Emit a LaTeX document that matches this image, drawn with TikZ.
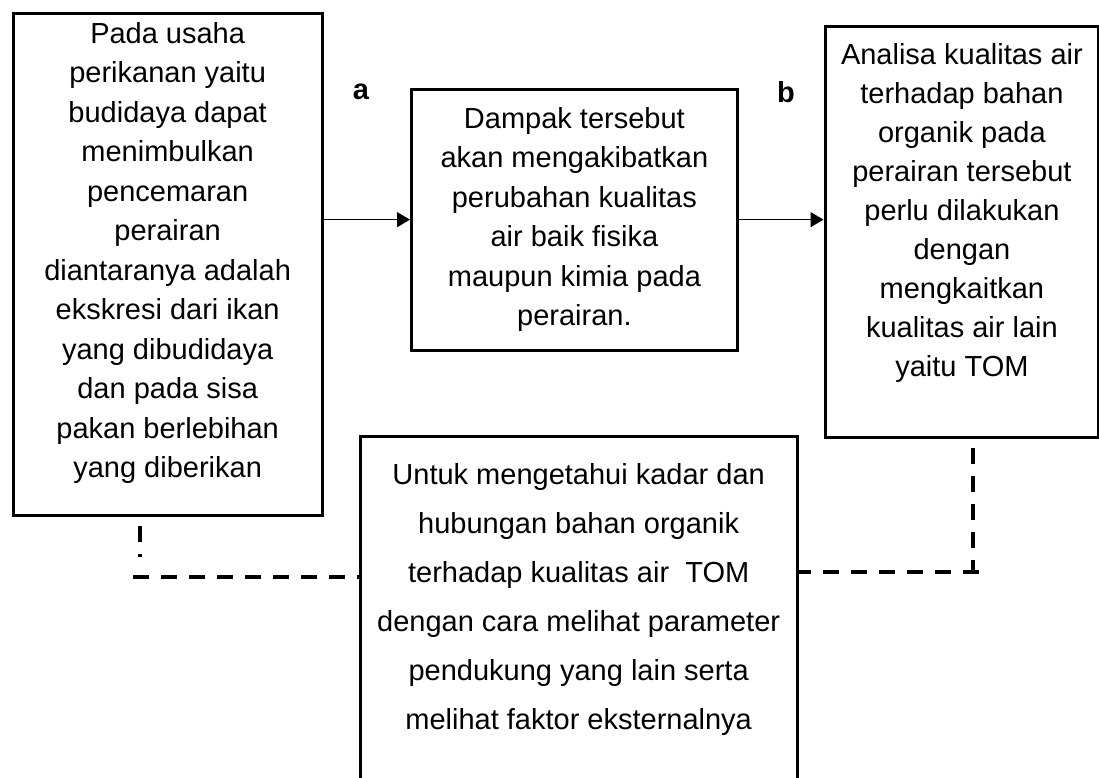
\documentclass[tikz,border=0pt]{standalone}
\usepackage{fontspec}
\setmainfont{Liberation Sans}
\usetikzlibrary{arrows.meta,positioning}

\tikzset{
  box/.style={draw, line width=3.3pt, inner sep=0pt, anchor=north west},
  boxtext/.style={align=center, inner sep=0pt, font=\fontsize{29}{39.5}\selectfont},
  flow/.style={line width=1.4pt, -{Triangle[length=13pt, width=15pt]}},
  link/.style={line width=3.8pt, dash pattern=on 16pt off 12pt},
  tag/.style={font=\fontsize{29}{35}\selectfont\bfseries},
}

\begin{document}
\begin{tikzpicture}[x=1pt, y=-1pt]
  \useasboundingbox (0,0) rectangle (1099,777);
  % frames
  \node [box, minimum width=309pt, minimum height=502pt] (b1) at (11.5,11.5) {};
  \node [box, minimum width=325.5pt, minimum height=261pt] (b2) at (410,87.5) {};
  \node [box, minimum width=273.5pt, minimum height=411pt] (b3) at (823.5,24.5) {};
  \node [box, minimum width=437pt, minimum height=380pt] (b4) at (358.5,434.5) {};
  % texts
  \node [boxtext, below=10.5pt of b1.north] (t1) {Pada usaha\\perikanan yaitu\\budidaya dapat\\menimbulkan\\pencemaran\\perairan\\diantaranya adalah\\ekskresi dari ikan\\yang dibudidaya\\dan pada sisa\\pakan berlebihan\\yang diberikan};
  \node [boxtext, below=19.5pt of b2.north] (t2) {Dampak tersebut\\akan mengakibatkan\\perubahan kualitas\\air baik fisika\\maupun kimia pada\\perairan.};
  \node [boxtext, font=\fontsize{29}{39}\selectfont, below=18.5pt of b3.north] (t3) {Analisa kualitas air\\terhadap bahan\\organik pada\\perairan tersebut\\perlu dilakukan\\dengan\\mengkaitkan\\kualitas air lain\\yaitu TOM};
  \node [boxtext, font=\fontsize{29}{49}\selectfont, below=28.5pt of b4.north] (t4) {Untuk mengetahui kadar dan\\hubungan bahan organik\\terhadap kualitas air\ \ TOM\\dengan cara melihat parameter\\pendukung yang lain serta\\melihat faktor eksternalnya};
  % arrows
  \draw [flow] (b1.east |- b2.west) -- (b2.west);
  \draw [flow] (b2.east) -- (b2.east -| b3.west);
  \node [tag] (la) at (361,92) {a};
  \node [tag] (lb) at (786,92) {b};
  % dashed links
  \coordinate (d1) at (140,557);
  \coordinate (d2) at (133,577);
  \coordinate (d3) at (973,573);
  \coordinate (d4) at (979,572);
  \draw [link, dash phase=18.5pt] (b1.south -| d1) -- (d1);
  \draw [link] (d2) -- (d2 -| b4.west);
  \draw [link, dash phase=18.5pt] (b3.south -| d3) -- (d3);
  \draw [link] (d4) -- (d4 -| b4.east);
\end{tikzpicture}
\end{document}
